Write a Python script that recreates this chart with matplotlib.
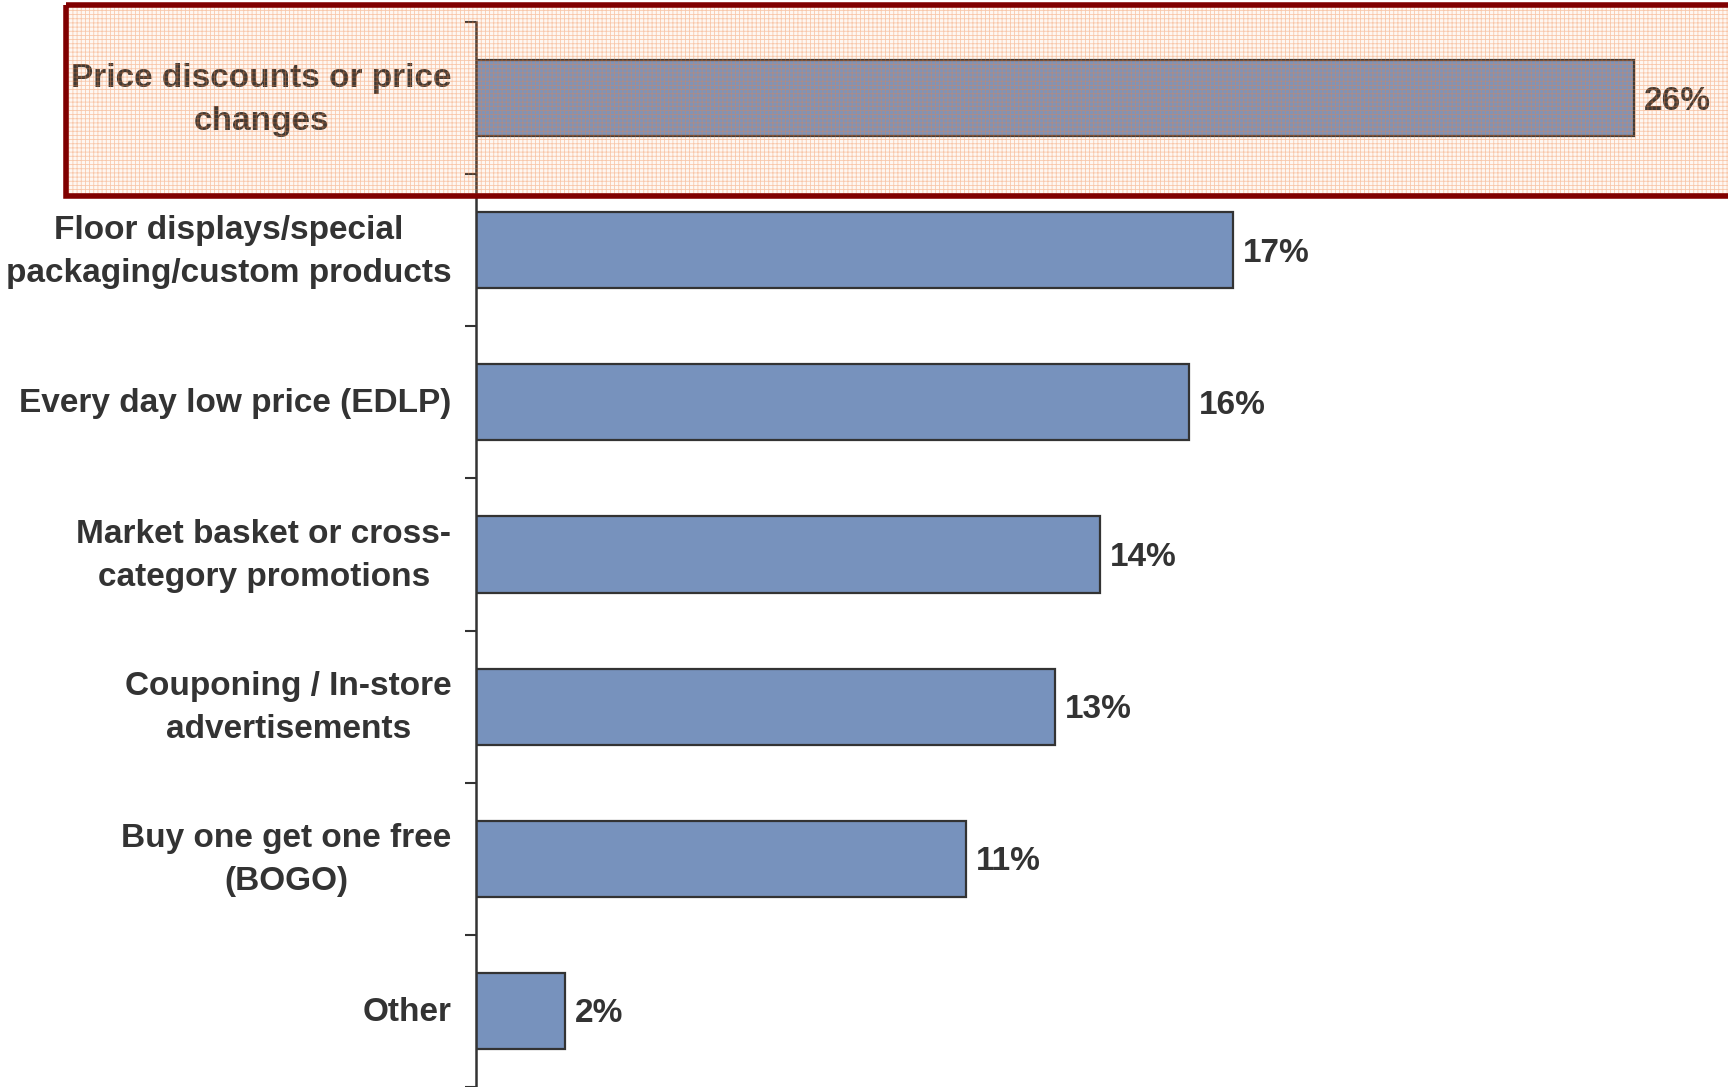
import matplotlib
matplotlib.use("Agg")
import matplotlib.pyplot as plt
from matplotlib.patches import Rectangle
import matplotlib.transforms as mtransforms

plt.rcParams['font.family'] = ['Liberation Sans', 'DejaVu Sans']
plt.rcParams['hatch.linewidth'] = 0.6

# Share of respondents by promotion type
categories = [
    "Price discounts or price\nchanges",
    "Floor displays/special\npackaging/custom products",
    "Every day low price (EDLP)",
    "Market basket or cross-\ncategory promotions",
    "Couponing / In-store\nadvertisements",
    "Buy one get one free\n(BOGO)",
    "Other",
]
shares = [26, 17, 16, 14, 13, 11, 2]
value_labels = ["26%", "17%", "16%", "14%", "13%", "11%", "2%"]

W, H = 1728, 1087
fig = plt.figure(figsize=(W / 100, H / 100), dpi=100)
ax = fig.add_axes([476 / W, 0.0, 1 - 476 / W, 1 - 22 / H])

text_col = "#333333"
ypos = list(range(len(categories)))
ax.barh(ypos, shares, height=0.5, color="#7792BD",
        edgecolor="#333333", linewidth=1.6, zorder=2)

for y, v, lab in zip(ypos, shares, value_labels):
    ax.text(v + 0.22, y + 0.02, lab, va="center", ha="left", fontsize=24,
            fontweight="bold", color=text_col, zorder=3)

for y, cat in zip(ypos, categories):
    ax.text(-0.55, y + 0.01, cat, va="center", ha="right",
            multialignment="center", fontsize=24, fontweight="bold",
            color=text_col, linespacing=1.5, transform=ax.transData,
            clip_on=False)

ax.set_xlim(0, (W - 476) / 44.55)
ax.set_ylim(len(categories) - 0.5, -0.5)

# category boundaries as ticks on the left spine
ax.set_yticks([i - 0.5 for i in range(len(categories) + 1)])
ax.set_yticklabels([])
ax.tick_params(axis="y", direction="out", length=8, width=1.5, color="#333333")
ax.set_xticks([])
for side in ["top", "right", "bottom"]:
    ax.spines[side].set_visible(False)
ax.spines["left"].set_linewidth(1.8)
ax.spines["left"].set_color("#333333")
ax.set_facecolor("none")

# highlight box around the first category
trans = mtransforms.blended_transform_factory(fig.transFigure, ax.transData)
x0 = 66 / W
y_top, y_bot = -0.61, 0.645
shade = Rectangle((x0, y_top), 1.05 - x0, y_bot - y_top, transform=trans,
                  facecolor="#F7A35C", alpha=0.08, edgecolor="none",
                  clip_on=False, zorder=5)
texture = Rectangle((x0, y_top), 1.05 - x0, y_bot - y_top, transform=trans,
                    facecolor="none", edgecolor="#F08040", hatch="++++",
                    linewidth=0, alpha=0.4, clip_on=False, zorder=6)
border = Rectangle((x0, y_top), 1.05 - x0, y_bot - y_top, transform=trans,
                   facecolor="none", edgecolor="#800000", linewidth=4,
                   clip_on=False, zorder=7)
for p in (shade, texture, border):
    ax.add_patch(p)

fig.savefig("out.png", dpi=100)
